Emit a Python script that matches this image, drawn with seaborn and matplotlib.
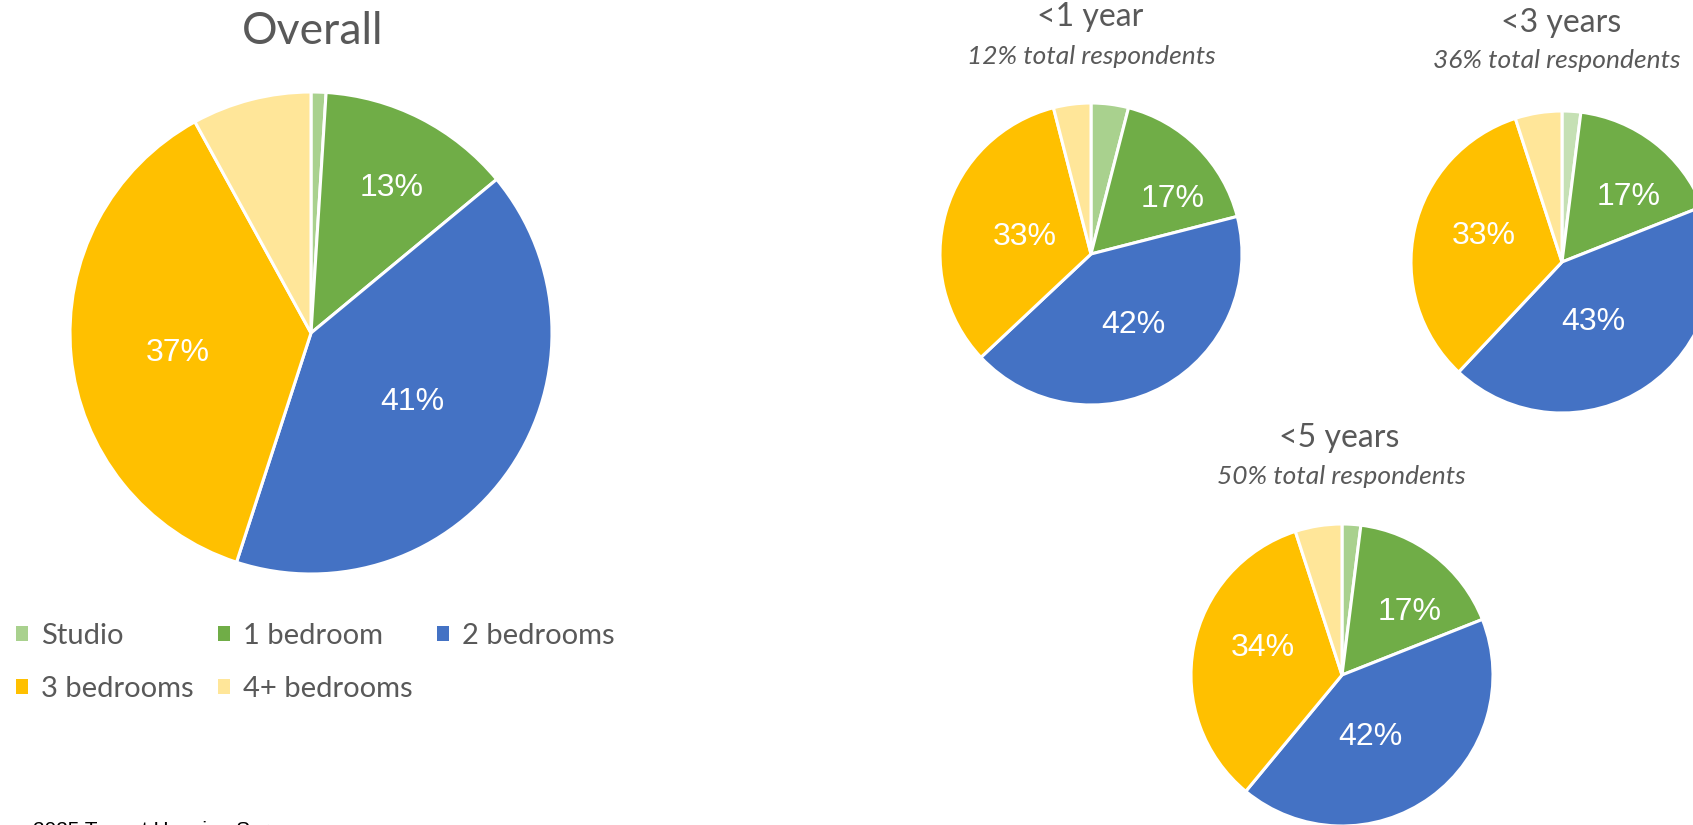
import numpy as np
import matplotlib
matplotlib.use("Agg")
import matplotlib.pyplot as plt
import seaborn as sns
from matplotlib.patches import Patch

# ---------------- data ----------------
categories = ["Studio", "1 bedroom", "2 bedrooms", "3 bedrooms", "4+ bedrooms"]
overall = [1, 13, 41, 37, 8]
under_1_year = [4, 17, 42, 33, 4]
under_3_years = [2, 17, 43, 33, 5]
under_5_years = [2, 17, 42, 34, 5]
panel_titles = ["Overall", "<1 year", "<3 years", "<5 years"]
panel_subtitles = [None, "12% total respondents", "36% total respondents", "50% total respondents"]
source_note = "2025 Tenant Housing Survey"

# ---------------- style ----------------
sns.set_theme(style="white")
plt.rcParams['font.family'] = ['Lato', 'DejaVu Sans']
colors = ["#A9D18E", "#70AD47", "#4472C4", "#FFC000", "#FFE699"]
colors_3y = ["#C5E0B4", "#70AD47", "#4472C4", "#FFC000", "#FFE699"]
TXT = "#595959"

W, H = 1693, 825
fig = plt.figure(figsize=(W / 100, H / 100), dpi=100)
fig.patch.set_facecolor("white")


def px_axes(cx, cy, r):
    return fig.add_axes([(cx - r) / W, (H - (cy + r)) / H, 2 * r / W, 2 * r / H])


def draw_pie(ax, values, cols, label_r, label_shift):
    """label_r: radial position (fraction of radius); label_shift: angular nudge (deg)
    of each data label, mimicking Excel's 'best fit' placement."""
    wedges, _, autotexts = ax.pie(
        values, colors=cols, startangle=90, counterclock=False, radius=1,
        wedgeprops=dict(edgecolor="white", linewidth=2.2),
        autopct=lambda p: f"{p:.0f}%" if p >= 10 else "",
        textprops=dict(color="white", fontsize=23, family=["Liberation Sans", "DejaVu Sans"]),
    )
    for w, t, f, s in zip(wedges, autotexts, label_r, label_shift):
        w.set_clip_on(False)
        ang = np.deg2rad((w.theta1 + w.theta2) / 2 + s)
        t.set_position((f * np.cos(ang), f * np.sin(ang)))
    ax.set_xlim(-1, 1)
    ax.set_ylim(-1, 1)
    ax.set_aspect("auto")
    ax.axis("off")


# Overall
ax0 = px_axes(311, 333, 241)
draw_pie(ax0, overall, colors, [0, 0.69, 0.51, 0.56, 0], [0, -2, 0, 3, 0])
# <1 year
ax1 = px_axes(1091, 254, 151)
draw_pie(ax1, under_1_year, colors, [0, 0.65, 0.55, 0.45, 0], [0, -11, 2, 2, 0])
# <3 years
ax2 = px_axes(1562, 262, 151)
draw_pie(ax2, under_3_years, colors_3y, [0, 0.62, 0.45, 0.55, 0], [0, -8, -7, -6, 0])
# <5 years
ax3 = px_axes(1342, 675, 151)
draw_pie(ax3, under_5_years, colors, [0, 0.61, 0.45, 0.555, 0], [0, -9, -11, -8, 0])

# titles
def ftext(x, y, s, **kw):
    fig.text(x / W, 1 - y / H, s, ha="center", va="center", color=TXT, **kw)

ftext(313, 32, panel_titles[0], fontsize=32)
ftext(1090, 17, panel_titles[1], fontsize=23)
ftext(1091, 56, panel_subtitles[1], fontsize=19, style="italic")
ftext(1561, 23, panel_titles[2], fontsize=23)
ftext(1557, 61, panel_subtitles[2], fontsize=19, style="italic")
ftext(1339, 438, panel_titles[3], fontsize=23)
ftext(1341, 477, panel_subtitles[3], fontsize=19, style="italic")

# legend (row-wise order for 3 columns)
handles = [Patch(facecolor=c, edgecolor="none", label=l) for c, l in zip(colors, categories)]
order = [0, 3, 1, 4, 2]
fig.legend([handles[i] for i in order], [categories[i] for i in order],
           ncol=3, loc="upper left", bbox_to_anchor=(16 / W, 1 - 623 / H),
           frameon=False, fontsize=21, labelcolor=TXT,
           handlelength=0.4, handleheight=0.4, handletextpad=0.45,
           columnspacing=0.85, labelspacing=0.93, borderpad=0, borderaxespad=0)

# source note, cut off by the bottom edge as in the original
fig.text(33 / W, 1 - 821 / H, source_note, ha="left", va="top", fontsize=15,
         color="black", family=["Liberation Sans", "DejaVu Sans"])

fig.savefig("out.png", dpi=100, facecolor="white")
